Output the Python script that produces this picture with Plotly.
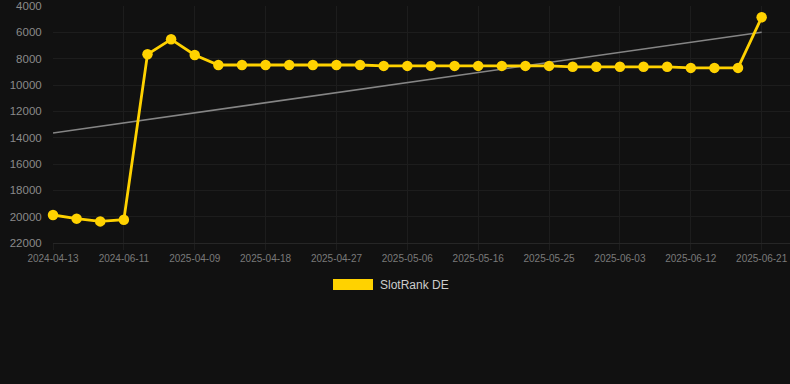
import numpy as np
import plotly.graph_objects as go

dates = [
    "2024-04-13", "2024-05-03", "2024-05-22", "2024-06-11", "2025-03-31", "2025-04-06",
    "2025-04-09", "2025-04-12", "2025-04-15", "2025-04-18", "2025-04-21", "2025-04-24",
    "2025-04-27", "2025-04-30", "2025-05-03", "2025-05-06", "2025-05-09", "2025-05-13",
    "2025-05-16", "2025-05-19", "2025-05-22", "2025-05-25", "2025-05-28", "2025-05-31",
    "2025-06-03", "2025-06-06", "2025-06-09", "2025-06-12", "2025-06-15", "2025-06-18",
    "2025-06-21",
]
rank = [
    19870, 20150, 20360, 20230, 7670, 6530, 7720,
    8480, 8480, 8480, 8480, 8480, 8480, 8480,
    8550, 8550, 8550, 8550, 8550, 8550, 8550, 8550,
    8620, 8620, 8620, 8620, 8620,
    8700, 8700, 8700,
    4860,
]
series_name = "SlotRank DE"
y_ticks = [4000, 6000, 8000, 10000, 12000, 14000, 16000, 18000, 20000, 22000]

idx = np.arange(len(dates))
slope, intercept = np.polyfit(idx, rank, 1)
trend = slope * idx + intercept

tick_idx = list(range(0, len(dates), 3))
tick_txt = [dates[i] for i in tick_idx]

BG = "#111111"
GRID = "#1d1d1d"
GOLD = "#FFD200"

fig = go.Figure()
fig.add_trace(go.Scatter(
    x=idx, y=trend, mode="lines",
    line=dict(color="#858585", width=1.6),
    showlegend=False, hoverinfo="skip",
))
fig.add_trace(go.Scatter(
    x=idx, y=rank, mode="lines+markers", name=series_name,
    line=dict(color=GOLD, width=2.8),
    marker=dict(color=GOLD, size=10.5),
    showlegend=False, cliponaxis=False,
))

fig.update_layout(
    width=790, height=384,
    margin=dict(l=53, r=0, t=6, b=141),
    paper_bgcolor=BG, plot_bgcolor=BG,
    font=dict(family="Liberation Sans, Arial, sans-serif", color="#8a8a8a"),
    xaxis=dict(
        range=[0, 31.2], tickmode="array", tickvals=tick_idx, ticktext=tick_txt,
        showgrid=True, gridcolor=GRID, gridwidth=1, zeroline=False,
        showline=True, linecolor="#262626",
        ticks="outside", ticklen=6, tickcolor=GRID,
        tickfont=dict(size=10, color="#7a7a7a"),
    ),
    yaxis=dict(
        range=[22000, 4000], tickmode="array", tickvals=y_ticks,
        ticktext=[str(v) for v in y_ticks],
        showgrid=True, gridcolor=GRID, gridwidth=1, zeroline=False,
        ticks="outside", ticklen=8, tickcolor="rgba(0,0,0,0)",
        tickfont=dict(size=11.5, color="#8a8a8a"),
    ),
)

# legend drawn in paper coordinates
fig.add_shape(type="rect", xref="paper", yref="paper",
              x0=(333 - 53) / 737, x1=(373 - 53) / 737,
              y0=(243 - 279) / 237, y1=(243 - 290) / 237,
              fillcolor=GOLD, line=dict(width=0))
fig.add_annotation(xref="paper", yref="paper", x=(378 - 53) / 737, y=(243 - 284.5) / 237,
                   text=series_name, showarrow=False, xanchor="left", yanchor="middle",
                   font=dict(size=12, color="#cccccc"))

fig.write_html("out.html", config={"displayModeBar": False},
               post_script="document.body.style.margin='0';document.body.style.background='#111111';")
